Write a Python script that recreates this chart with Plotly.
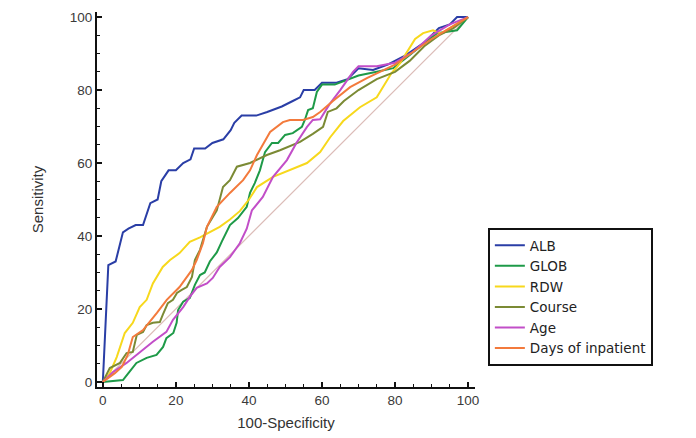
import plotly.graph_objects as go

# ---- data ----
alb_x = [0, 0.5, 1, 1.2, 1.5, 3.5, 4.5, 5.5, 7, 9, 11, 12, 13, 15, 16, 18, 20, 22, 24, 25, 28, 30, 33, 35, 36, 38, 42, 45, 49, 52, 54, 55, 58, 60, 64, 67, 70, 74, 78, 83, 88, 92, 95, 97, 100]
alb_y = [0, 10, 20, 25, 32, 33, 37, 41, 42, 43, 43, 46, 49, 50, 55, 58, 58, 60, 61, 64, 64, 65.5, 66.5, 69, 71, 73, 73, 74, 75.5, 77, 78, 80, 80, 82, 82, 83, 86, 85.5, 87, 89.6, 93, 97, 98, 100, 100]

glob_x = [0, 3, 5.5, 7, 9.2, 12, 14.7, 16.5, 17.4, 19.3, 20.2, 20.6, 22, 23.8, 25.2, 26.6, 27.9, 29.3, 31.2, 32.6, 34.8, 37, 39.4, 40.3, 41.6, 43, 44.4, 46.3, 48, 49.9, 52, 54.5, 55.3, 56.2, 57.5, 58.6, 60, 63.5, 66, 70, 75, 79.5, 83, 87, 91.5, 97, 100]
glob_y = [0, 0.3, 0.5, 2.4, 5.2, 6.6, 7.4, 9.6, 12, 13.4, 16.2, 19.7, 22, 23, 26.6, 29.3, 30, 33, 35.5, 38.5, 43, 44.9, 48, 51.8, 54.5, 58, 63, 65.5, 65.5, 67.7, 68.2, 69.9, 71.8, 74.5, 75, 79.5, 81.5, 81.5, 82.5, 84, 85, 86, 88.8, 92, 95.6, 96.4, 100]

rdw_x = [0, 1.9, 3.8, 4.7, 6, 8.2, 10.1, 12, 13.7, 16.4, 18.4, 21, 23.8, 26.6, 29.3, 32, 34.8, 37.5, 40, 42.2, 46.6, 51.2, 55.9, 59.5, 62.2, 65.8, 70.4, 75, 76.7, 79, 81.4, 85.5, 87.7, 90.4, 92.5, 95, 100]
rdw_y = [0, 2.4, 6.8, 9.6, 13.4, 16.2, 20.5, 22.5, 27, 31.5, 33.4, 35.3, 38.4, 39.6, 41, 42.5, 44.5, 46.8, 50, 53.4, 56.2, 58, 60, 63, 67, 71.5, 75.3, 78, 80.8, 84.6, 87.4, 94, 95.6, 96.4, 95.5, 97, 100]

course_x = [0, 1.9, 4.7, 6.5, 8.2, 9.3, 11, 12, 13.7, 15.6, 16.4, 17.8, 19.2, 20.3, 21.6, 23, 24.4, 25.2, 26.6, 28.5, 31.2, 32.9, 34.8, 36.7, 40.3, 44.9, 48.5, 54, 57.5, 60.3, 61.6, 64, 66, 70, 75, 80, 84, 88, 92, 96, 100]
course_y = [0, 3.8, 5.2, 7.9, 8.2, 12.9, 13.7, 15.6, 16.2, 16.4, 18.4, 21.6, 22.5, 24.4, 25.2, 26, 28.8, 33.4, 36.2, 42.5, 47, 53.4, 55.3, 59, 60, 62.2, 63.5, 65.8, 68, 69.9, 74, 75, 77, 80, 83, 85, 88, 92, 95, 97, 100]

age_x = [0, 2.8, 6.5, 10.1, 13.7, 17.4, 19.2, 22, 23.8, 25.7, 28.5, 30.1, 32, 34.8, 37.5, 39.4, 40.8, 43.8, 46.6, 50.4, 53, 55.9, 57.5, 59.5, 62, 65, 68.5, 70, 75, 80, 85, 90, 95, 100]
age_y = [0, 2.7, 5.2, 8.2, 11, 13.7, 17, 20.5, 23.3, 25.8, 27, 28.5, 31.5, 34.2, 38, 42, 47, 50.7, 56.2, 60.8, 65.5, 69.9, 71.8, 72, 76, 80, 85, 86.5, 86.5, 87.5, 90.5, 95, 98, 100]

days_x = [0, 3.3, 5.2, 6.8, 8.2, 11, 14.8, 17.5, 21, 24.4, 25.7, 27.4, 28.5, 31.2, 34.8, 38.4, 40.3, 42.2, 45.8, 49.3, 51.2, 54.8, 57.5, 59.5, 63, 67.7, 72.3, 76.7, 80, 85, 90, 95, 100]
days_y = [0, 2.4, 4.1, 7.4, 12.3, 14.2, 18.9, 22.5, 26, 30.7, 33.4, 38, 42.5, 48, 51.8, 55.3, 58, 62.2, 68.5, 71.2, 71.8, 71.8, 72.6, 74, 77, 80.8, 83.3, 85.5, 87, 90.5, 94, 97, 100]

ref_x = [0, 100]
ref_y = [0, 100]

series_names = ["ALB", "GLOB", "RDW", "Course", "Age", "Days of inpatient"]
series_x = [alb_x, glob_x, rdw_x, course_x, age_x, days_x]
series_y = [alb_y, glob_y, rdw_y, course_y, age_y, days_y]
colors = ["#2a3ea6", "#1e9a48", "#f7d81c", "#7b8a34", "#c24ec8", "#f37a3c"]

tick_vals = [0, 20, 40, 60, 80, 100]

FONT = "Arial, Liberation Sans, sans-serif"

fig = go.Figure()
fig.add_trace(go.Scatter(x=ref_x, y=ref_y, mode="lines",
                         line=dict(color="#dcbcb8", width=1.3),
                         showlegend=False, hoverinfo="skip"))
for name, xs, ys, c in zip(series_names, series_x, series_y, colors):
    fig.add_trace(go.Scatter(x=xs, y=ys, mode="lines", name=name,
                             line=dict(color=c, width=2)))

axis_common = dict(
    showgrid=False, zeroline=False, showline=True, linecolor="#111111", linewidth=2,
    ticks="inside", ticklen=5, tickwidth=1.5, tickcolor="#111111",
    tickvals=tick_vals, automargin=False,
    tickfont=dict(family=FONT, size=13.5, color="#3a3a3a"),
    minor=dict(dtick=5, tick0=0, ticks="inside", ticklen=3, tickwidth=1, tickcolor="#111111", showgrid=False),
)

# page body has an 8px margin, so the figure is sized/offset to compensate
fig.update_layout(
    width=688, height=430,
    margin=dict(l=89, r=221, t=4, b=51),
    paper_bgcolor="white", plot_bgcolor="white",
    xaxis=dict(range=[-1.6, 101.9], title=dict(text="100-Specificity", standoff=10,
               font=dict(family=FONT, size=15, color="#333333")),
               **axis_common),
    yaxis=dict(range=[-1.4, 101.4], title=dict(text="Sensitivity", standoff=23,
               font=dict(family=FONT, size=15, color="#333333")),
               **axis_common),
    legend=dict(x=1.034, y=0.424, xanchor="left", yanchor="top",
                bordercolor="#111111", borderwidth=2, bgcolor="white",
                font=dict(family="DejaVu Sans, Arial, sans-serif", size=13.5, color="#222222"),
                tracegroupgap=0, itemwidth=30),
    showlegend=True,
)

fig.write_html("out.html")
